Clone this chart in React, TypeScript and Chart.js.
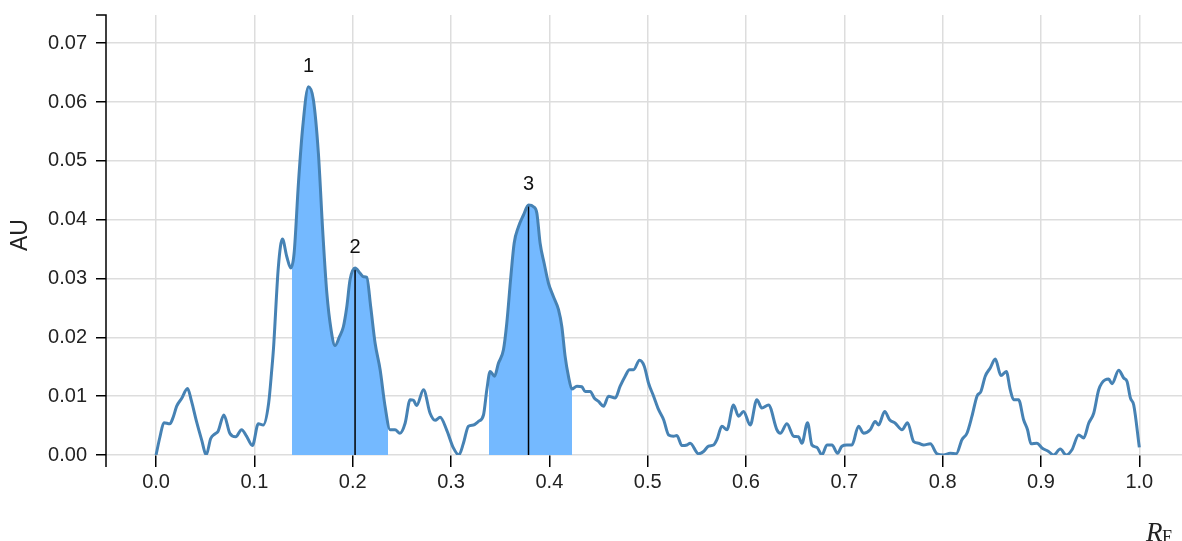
import React, { useEffect, useRef } from "react";
import { Chart, registerables } from "chart.js";

Chart.register(...registerables);

// Densitogram: migration distance (Rf) vs detector response (AU)
const rfValues = [
  0.0, 0.004, 0.008, 0.014, 0.0176, 0.021, 0.026, 0.032, 0.036, 0.041,
  0.0465, 0.051, 0.0556, 0.06, 0.063, 0.069, 0.075, 0.081, 0.087, 0.092,
  0.098, 0.104, 0.109, 0.1145, 0.1177, 0.1194, 0.1244, 0.1285, 0.133, 0.137,
  0.1404, 0.1448, 0.1492, 0.155, 0.16, 0.1651, 0.1696, 0.1737, 0.178, 0.182,
  0.1865, 0.1905, 0.194, 0.1973, 0.2024, 0.2075, 0.2109, 0.2143, 0.2183, 0.2228,
  0.2279, 0.2329, 0.238, 0.2431, 0.248, 0.2533, 0.2584, 0.2618, 0.265, 0.272,
  0.2787, 0.2838, 0.2889, 0.2957, 0.3024, 0.308, 0.3126, 0.3177, 0.3228, 0.3279,
  0.333, 0.3364, 0.3398, 0.3442, 0.3482, 0.3533, 0.3567, 0.3608, 0.3642, 0.3686,
  0.3737, 0.3788, 0.3839, 0.3873, 0.3906, 0.3947, 0.3991, 0.4042, 0.4093, 0.4127,
  0.416, 0.4194, 0.4229, 0.428, 0.433, 0.4364, 0.4415, 0.4456, 0.45, 0.4551,
  0.4602, 0.467, 0.472, 0.4771, 0.4815, 0.4856, 0.4917, 0.4965, 0.5009, 0.506,
  0.5111, 0.5162, 0.5213, 0.5263, 0.5297, 0.5348, 0.5399, 0.5432, 0.5517, 0.5568,
  0.5619, 0.567, 0.5704, 0.5755, 0.5806, 0.5873, 0.5924, 0.5975, 0.6043, 0.611,
  0.6161, 0.6229, 0.6314, 0.6348, 0.6416, 0.6484, 0.6534, 0.6568, 0.6626, 0.667,
  0.6721, 0.6772, 0.6823, 0.6874, 0.6931, 0.6975, 0.7026, 0.7077, 0.7144, 0.7195,
  0.7263, 0.7314, 0.7348, 0.741, 0.746, 0.7518, 0.7586, 0.7643, 0.7704, 0.7755,
  0.7806, 0.7874, 0.7942, 0.8009, 0.8077, 0.8138, 0.8196, 0.8247, 0.8298, 0.8349,
  0.8389, 0.8433, 0.8484, 0.8535, 0.8593, 0.8647, 0.8687, 0.8721, 0.8772, 0.8823,
  0.8863, 0.8898, 0.8959, 0.901, 0.9077, 0.9128, 0.9196, 0.9257, 0.9315, 0.9383,
  0.9434, 0.9485, 0.9536, 0.9587, 0.9654, 0.9688, 0.9722, 0.979, 0.9841, 0.9875,
  0.9909, 0.9943, 1.0,
];

const auValues = [
  0.0, 0.0031, 0.0055, 0.0053, 0.0065, 0.0083, 0.0096, 0.0113, 0.0092, 0.0058,
  0.0025, 0.0, 0.0028, 0.0036, 0.004, 0.0068, 0.0037, 0.0031, 0.0043, 0.0032,
  0.0016, 0.0053, 0.0051, 0.0088, 0.0145, 0.018, 0.032, 0.0367, 0.0337, 0.0318,
  0.0343, 0.0462, 0.0558, 0.0626, 0.0604, 0.0513, 0.0378, 0.0275, 0.0213, 0.0186,
  0.0201, 0.0218, 0.0252, 0.0298, 0.0318, 0.0309, 0.0303, 0.0302, 0.0252, 0.019,
  0.0145, 0.0083, 0.0043, 0.0043, 0.0037, 0.0054, 0.0094, 0.0093, 0.0084, 0.0111,
  0.0071, 0.0059, 0.0064, 0.0042, 0.0012, 0.0, 0.002, 0.0049, 0.0051, 0.0057,
  0.0068, 0.0111, 0.0142, 0.0134, 0.0156, 0.0179, 0.0224, 0.0303, 0.036, 0.0388,
  0.0408, 0.0425, 0.0422, 0.0411, 0.036, 0.0326, 0.0292, 0.0269, 0.0247, 0.0218,
  0.0168, 0.0134, 0.0112, 0.0117, 0.0116, 0.0108, 0.0108, 0.0097, 0.0091, 0.0083,
  0.01, 0.0097, 0.0117, 0.0134, 0.0145, 0.0145, 0.0161, 0.0151, 0.0122, 0.01,
  0.0077, 0.006, 0.0034, 0.0032, 0.0033, 0.0016, 0.0017, 0.002, 0.0002, 0.0006,
  0.0015, 0.0017, 0.0026, 0.0049, 0.0043, 0.0085, 0.0066, 0.0074, 0.0051, 0.0094,
  0.008, 0.0085, 0.0043, 0.0037, 0.0053, 0.0032, 0.0031, 0.002, 0.0055, 0.0017,
  0.0013, 0.0, 0.0017, 0.0017, 0.0003, 0.0015, 0.0017, 0.0017, 0.0049, 0.0037,
  0.0043, 0.0057, 0.0051, 0.0074, 0.006, 0.0054, 0.0043, 0.0055, 0.0023, 0.002,
  0.0017, 0.0019, 0.0002, 0.0, 0.0003, 0.0002, 0.0026, 0.0037, 0.0066, 0.01,
  0.0108, 0.0134, 0.0148, 0.0163, 0.0135, 0.0142, 0.0111, 0.0094, 0.0094, 0.006,
  0.0043, 0.0019, 0.002, 0.0012, 0.0006, 0.0, 0.001, 0.0, 0.0009, 0.0034,
  0.0029, 0.0054, 0.0071, 0.0111, 0.0128, 0.0129, 0.0121, 0.0144, 0.0131, 0.0125,
  0.0097, 0.0085, 0.0013,
];

// Integrated regions [start, end] along Rf
const bandStarts = [0.138, 0.3388];
const bandEnds = [0.2363, 0.4229];

// Labelled peaks
const peakLabels = ["1", "2", "3"];
const peakRf = [0.155, 0.2024, 0.3788];
const peakAu = [0.0626, 0.0318, 0.0425];
const peakHasMarker = [false, true, true];

const xTickValues = [0, 0.1, 0.2, 0.3, 0.4, 0.5, 0.6, 0.7, 0.8, 0.9, 1.0];
const yTickValues = [0, 0.01, 0.02, 0.03, 0.04, 0.05, 0.06, 0.07];

const FONT = "'Liberation Sans', Arial, sans-serif";
const LINE_COLOR = "#4682b4";
const FILL_COLOR = "rgba(116,185,255,1)";
const FILL_CLEAR = "rgba(116,185,255,0)";
const GRID_COLOR = "#dddddd";

export default function App() {
  const canvasRef = useRef<HTMLCanvasElement | null>(null);

  useEffect(() => {
    document.body.style.margin = "0";
    const canvas = canvasRef.current;
    if (!canvas) return;

    const points = rfValues.map((x, i) => ({ x, y: auValues[i] }));

    const bandFill = (ctx: any) => {
      const chart = ctx.chart;
      const area = chart.chartArea;
      const xs = chart.scales?.x;
      if (!area || !xs) return FILL_CLEAR;
      const w = area.right - area.left;
      const g = chart.ctx.createLinearGradient(area.left, 0, area.right, 0);
      bandStarts.forEach((a, i) => {
        const pa = Math.min(1, Math.max(0, (xs.getPixelForValue(a) - area.left) / w));
        const pb = Math.min(1, Math.max(0, (xs.getPixelForValue(bandEnds[i]) - area.left) / w));
        g.addColorStop(pa, FILL_CLEAR);
        g.addColorStop(pa, FILL_COLOR);
        g.addColorStop(pb, FILL_COLOR);
        g.addColorStop(pb, FILL_CLEAR);
      });
      return g;
    };

    const markerSets = peakRf
      .map((rf, i) => ({ rf, au: peakAu[i], show: peakHasMarker[i] }))
      .filter((p) => p.show)
      .map((p) => ({
        data: [
          { x: p.rf, y: 0 },
          { x: p.rf, y: p.au },
        ],
        borderColor: "#000000",
        borderWidth: 1.5,
        pointRadius: 0,
        fill: false,
        order: 1,
      }));

    const noEdgePadding = (s: any) => {
      s.paddingTop = 0;
      s.paddingBottom = 0;
      s.paddingLeft = 0;
      s.paddingRight = 0;
    };

    const annotate = {
      id: "annotate",
      afterDraw(chart: any) {
        const { ctx, chartArea, scales } = chart;
        const xs = scales.x;
        const ys = scales.y;
        ctx.save();
        // y axis domain line with outer tick
        ctx.strokeStyle = "#000";
        ctx.lineWidth = 1.5;
        ctx.beginPath();
        ctx.moveTo(chartArea.left - 10, chartArea.top);
        ctx.lineTo(chartArea.left, chartArea.top);
        ctx.lineTo(chartArea.left, chartArea.bottom + 12);
        ctx.stroke();

        // peak numbers
        ctx.fillStyle = "#111";
        ctx.font = `20px ${FONT}`;
        ctx.textAlign = "center";
        ctx.textBaseline = "alphabetic";
        peakLabels.forEach((lab, i) => {
          ctx.fillText(lab, xs.getPixelForValue(peakRf[i]), ys.getPixelForValue(peakAu[i]) - 15);
        });

        // axis title R_F
        ctx.textAlign = "left";
        ctx.fillStyle = "#222";
        ctx.font = "italic 27px 'Liberation Serif', 'DejaVu Serif', serif";
        ctx.fillText("R", 1146, 541);
        ctx.font = "18px 'Liberation Serif', 'DejaVu Serif', serif";
        ctx.fillText("F", 1162, 543);
        ctx.restore();
      },
    };

    const chart = new Chart(canvas, {
      type: "line",
      data: {
        datasets: [
          {
            data: points,
            borderColor: LINE_COLOR,
            borderWidth: 3,
            pointRadius: 0,
            cubicInterpolationMode: "monotone",
            fill: false,
            order: 0,
          },
          {
            data: points,
            borderWidth: 0,
            borderColor: "rgba(0,0,0,0)",
            backgroundColor: bandFill,
            pointRadius: 0,
            cubicInterpolationMode: "monotone",
            fill: "origin",
            order: 3,
          },
          ...markerSets,
        ] as any,
      },
      options: {
        animation: false,
        responsive: false,
        events: [],
        layout: { padding: { top: 15, right: 0, left: 0, bottom: 0 } },
        plugins: {
          legend: { display: false },
          tooltip: { enabled: false },
        },
        scales: {
          x: {
            type: "linear",
            min: -0.0509,
            max: 1.0434,
            afterBuildTicks: (s: any) => {
              s.ticks = xTickValues.map((v) => ({ value: v }));
            },
            afterFit: (s: any) => {
              s.height = 86;
              noEdgePadding(s);
            },
            ticks: {
              autoSkip: false,
              maxRotation: 0,
              padding: 3,
              color: "#222",
              font: { family: FONT, size: 20 },
              callback: (v: any) => Number(v).toFixed(1),
            },
            grid: {
              color: GRID_COLOR,
              lineWidth: 1.5,
              tickLength: 12,
              tickColor: "#000",
              tickWidth: 1.5,
            },
            border: { display: false },
          },
          y: {
            type: "linear",
            min: 0,
            max: 0.0748,
            afterBuildTicks: (s: any) => {
              s.ticks = yTickValues.map((v) => ({ value: v }));
            },
            afterFit: (s: any) => {
              s.width = 106;
              noEdgePadding(s);
            },
            ticks: {
              padding: 9,
              color: "#222",
              font: { family: FONT, size: 20 },
              callback: (v: any) => Number(v).toFixed(2),
            },
            grid: {
              color: GRID_COLOR,
              lineWidth: 1.5,
              tickLength: 10,
              tickColor: "#000",
              tickWidth: 1.5,
            },
            border: { display: false },
            title: {
              display: true,
              text: "AU",
              color: "#222",
              font: { family: FONT, size: 23 },
              padding: { top: 7, bottom: 0 },
            },
          },
        },
      },
      plugins: [annotate],
    } as any);

    return () => chart.destroy();
  }, []);

  return (
    <div style={{ width: 1182, height: 541 }}>
      <canvas ref={canvasRef} width={1182} height={541} style={{ display: "block" }} />
    </div>
  );
}
